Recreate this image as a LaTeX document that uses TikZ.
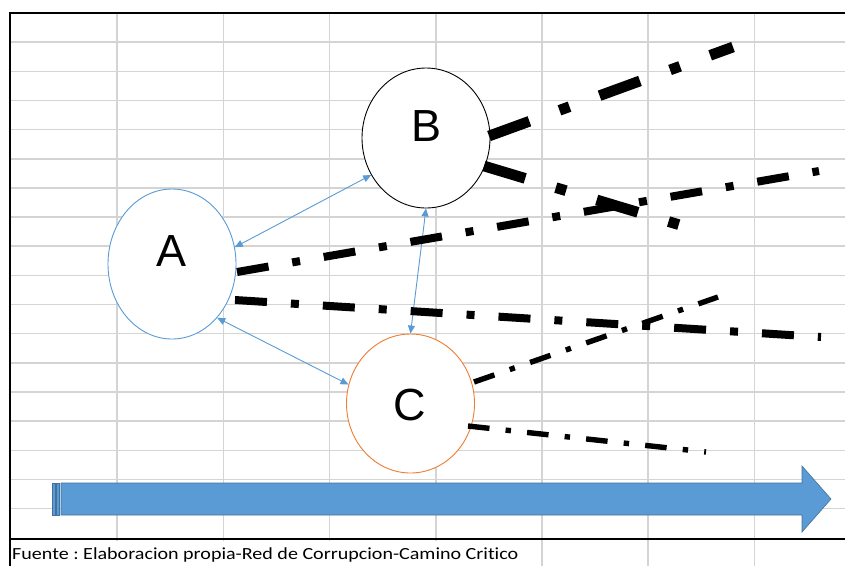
\documentclass[tikz,border=0pt]{standalone}
\usepackage{fontspec}
\newfontfamily\labfont{Liberation Sans}
\newfontfamily\captionfnt[FakeStretch=1.18,Ligatures=NoCommon]{Carlito}
\usetikzlibrary{arrows.meta,shapes.geometric}
\definecolor{gridc}{HTML}{D4D4D4}
\definecolor{offblue}{HTML}{5B9BD5}
\definecolor{offblueline}{HTML}{41719C}
\definecolor{offorange}{HTML}{ED7D31}
\frenchspacing
\tikzset{
  circnode/.style={ellipse, draw, fill=white, inner sep=0pt, minimum width=128pt, line width=0.9pt},
  letter/.style={font=\labfont\fontsize{45}{50}\selectfont, inner sep=0pt},
  bluelink/.style={offblue, line width=0.9pt, {Triangle[length=8pt,width=7pt]}-{Triangle[length=8pt,width=7pt]}},
  ddwide/.style={line width=10.7pt, line cap=butt, dash pattern=on 43pt off 32pt on 10.7pt off 32pt},
  ddmid/.style={line width=8pt, line cap=butt, dash pattern=on 32pt off 24pt on 8pt off 24pt},
  ddthin/.style={line width=5.4pt, line cap=butt, dash pattern=on 21.6pt off 16.2pt on 5.4pt off 16.2pt},
  gridline/.style={gridc, line width=1.5pt},
  frameline/.style={black, line width=2.6pt},
  bigarrow/.style={fill=offblue, draw=offblueline, line width=0.6pt}
}
\begin{document}
\begin{tikzpicture}[x=1pt,y=-1pt]
\useasboundingbox (0,0) rectangle (845,566);
\fill[white] (0,0) rectangle (845,566);
% spreadsheet grid
\foreach \k in {1,...,7} {
  \draw[gridline] ({11+106.2*\k},13) -- ({11+106.2*\k},566);
}
\foreach \k in {1,...,17} {
  \draw[gridline] (10,{13+29.15*\k}) -- (845,{13+29.15*\k});
}
% frame
\draw[frameline] (9,13) -- (845,13);
\draw[frameline] (10,13) -- (10,566);
\draw[frameline] (10,539) -- (845,539);
% caption
\fill[white] (11.5,540.5) rectangle (535,566);
\node[anchor=base west, inner sep=0pt, font=\captionfnt\fontsize{17}{20}\selectfont] (cap) at (12,559) {Fuente : Elaboracion propia-Red de Corrupcion-Camino Critico};
% big striped arrow
\filldraw[bigarrow] (52,483) rectangle (55,515);
\filldraw[bigarrow] (56.5,483) rectangle (59.5,515);
\filldraw[bigarrow] (61,483) -- (802,483) -- (802,466) -- (831,499) -- (802,532) -- (802,515) -- (61,515) -- cycle;
% nodes
\node[circnode, draw=offblue, minimum height=150pt] (A) at (172,264) {};
\node[circnode, draw=black, minimum height=140pt] (B) at (426,138) {};
\node[circnode, draw=offorange, minimum height=139pt] (C) at (410.5,403.5) {};
\node[letter] (Alab) at (171.5,251.5) {A};
\node[letter] (Blab) at (427,126.5) {B};
\node[letter] (Clab) at (410,404.5) {C};
% blue links
\draw[bluelink] (A.15) -- (B.214);
\draw[bluelink] (B.270) -- (C.90);
\draw[bluelink] (A.310) -- (C.163);
% dash-dot paths
\coordinate (b1s) at (489,136);
\coordinate (b1e) at (733,47);
\coordinate (b2s) at (484,166);
\coordinate (b2e) at (680,225);
\coordinate (a1s) at (237,272);
\coordinate (a1e) at (819,171);
\coordinate (a2s) at (235,300);
\coordinate (a2e) at (821,337);
\coordinate (c1s) at (474,382);
\coordinate (c1e) at (718,297);
\coordinate (c2s) at (468,426);
\coordinate (c2e) at (706,452);
\draw[ddwide] (b1s) -- (b1e);
\draw[ddwide] (b2s) -- (b2e);
\draw[ddmid] (a1s) -- (a1e);
\draw[ddmid] (a2s) -- (a2e);
\draw[ddthin] (c1s) -- (c1e);
\draw[ddthin] (c2s) -- (c2e);
\end{tikzpicture}
\end{document}
